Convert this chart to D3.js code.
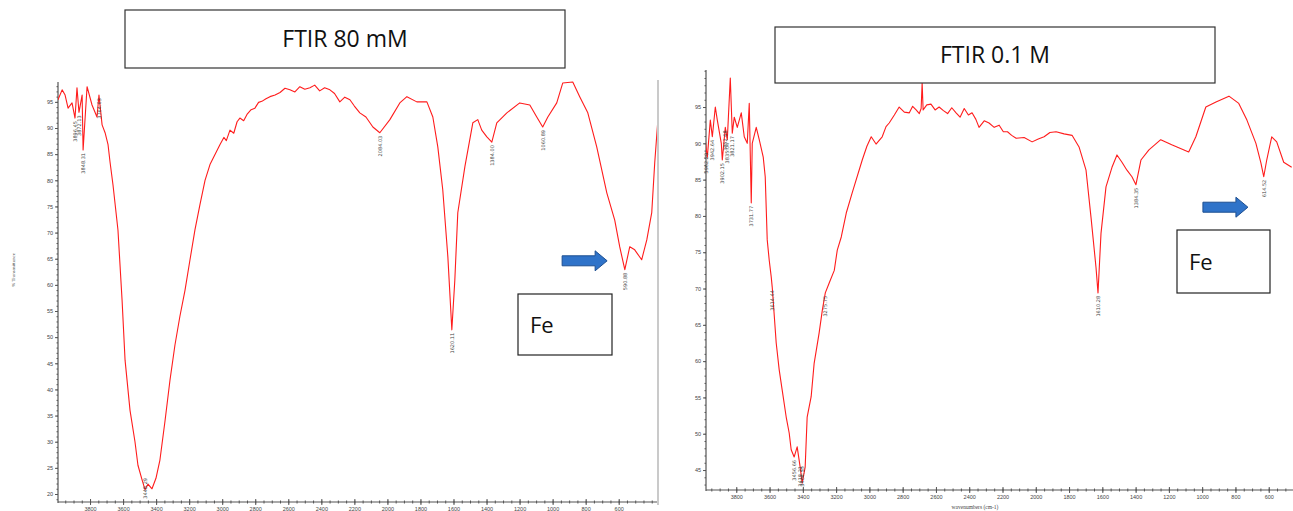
<!DOCTYPE html>
<html>
<head>
<meta charset="utf-8">
<script src="https://cdn.jsdelivr.net/npm/d3@7"></script>
<style>
  body { margin: 0; background: #fff; }
  svg { display: block; }
</style>
</head>
<body>
<div class="canvas"></div>
<script>
// spectrum 1 : FTIR 80 mM
var leftWave = [3994,3969,3951,3933,3909,3891,3879,3867,3848,3842,3818,3788,3758,3746,3727,3709,3691,3679,3661,3631,3606,3588,3558,3528,3510,3485,3467,3449,3425,3401,3377,3346,3316,3286,3256,3225,3195,3165,3135,3104,3074,
    3014,2990,2975,2953,2930,2910,2893,2870,2850,2825,2802,2780,2760,2735,2711,2680,2650,2620,2590,2560,2530,2500,2469,2440,2410,2380,2348,2320,2288,2258,2227,2200,2167,2130,2088,
    2046,1985,1925,1882,1822,1761,1725,1695,1665,1634,1610,1592,1574,1531,1483,1453,1429,1398,1368,1338,1277,1199,1138,1096,1060,1029,975,939,878,836,787,733,672,624,594,563,533,503,461,430,400,382,364];
var leftT = [95.4,97.3,96.3,93.8,94.8,91.9,97.7,93,96.3,85.8,97.9,94.4,92.1,96.3,90.6,89.1,86.8,83.5,79.1,70.5,57,45.6,36,30,25.5,22.7,20.8,21.9,21,23,26.5,34,41.8,48.5,54,59,64.8,70.5,75.3,80,83,
    86.8,88.2,87.6,89.6,89.0,91.2,91.9,91.4,92.6,93.5,93.8,94.9,95.1,95.6,96,96.3,96.8,97.6,97.3,96.9,97.9,97.4,97.7,98.2,97.1,97.7,97.3,96.6,95,95.9,95.4,94.2,92.9,92.1,90.2,
    89.1,91.6,94.8,96,95,95,92.1,86.4,78.2,65.3,51.4,60.9,73.8,82.6,91,91.6,89.6,88.3,87.3,91,92.9,94.8,94.4,92.1,90.2,92.1,94.8,98.6,98.8,96,92.9,86.4,77.6,72.4,67.3,62.9,67.3,66.7,64.8,68.6,73.8,83.3,91];
var leftPeakWave = [3891,3867,3842,3746,3467,2046,1610,1368,1060,563];
var leftPeakText = ['3896.45','3872.13','3848.31','3764.63','3448.29','2084.03','1620.11','1384.00','1060.89','590.88'];

// spectrum 2 : FTIR 0.1 M
var rightWave = [3992,3980,3974,3956,3944,3926,3914,3890,3884,3866,3854,3836,3824,3812,3794,3770,3752,3734,3722,3710,3704,3680,3662,3638,3626,3614,3602,3590,3584,3560,3542,3524,3500,3482,3470,3452,3434,3416,3404,3386,3374,3350,3332,3302,3283,3265,3241,3211,3193,3169,3139,3103,3043,3015,2989,2960,2923,2900,
    2881,2850,2821,2790,2760,2740,2719,2700,2689,2683,2677,2655,2630,2605,2581,2555,2530,2505,2479,2455,2430,2405,2383,2360,2341,2310,2281,2250,2220,2195,2170,2145,2118,2070,2022,1985,1950,1915,1878,1830,1782,1740,
    1698,1668,1638,1626,1608,1578,1542,1512,1482,1452,1422,1398,1368,1320,1249,1183,1081,1038,978,917,839,780,731,677,647,630,612,582,552,510,462];
var rightT = [91.8,89.1,88.1,93.2,90.9,95,93.2,90,87.7,92.2,90.5,99,91.4,93.6,92.2,94.2,90.9,90,95.5,81.8,90,92.2,90.5,88.1,85.4,76.7,73.9,71.6,70.2,62.5,58.8,56,52.3,50.1,47.8,46.8,48.2,45.4,43.2,45.4,52.3,55.1,59.7,63.9,67,69.4,70.8,72.5,75.3,77.1,80.4,83.2,87.7,89.6,90.9,89.9,90.9,92.3,
    92.8,93.9,95,94.3,94.2,95.1,94.6,94.1,94.8,98.3,94.6,95.3,95.4,94.6,95,94.5,94.1,94.9,94.2,93.6,94.8,93.9,94.2,93.3,92.2,93.1,92.8,92.2,92.5,91.6,91.6,91.1,90.7,90.8,90.2,90.6,90.9,91.5,91.6,91.3,91.1,89.5,
    86.3,79.8,72.9,69.4,77.6,84,86.7,88.4,87.4,86.3,85.4,84.3,87.7,89.1,90.5,89.8,88.8,90.9,95,95.7,96.5,95.5,93.2,90,87.3,85.4,87.7,90.9,90.2,87.4,86.7];
var rightPeakWave = [3980,3944,3884,3866,3854,3824,3710,3584,3265,3452,3416,3404,1626,1398,630];
var rightPeakText = ['3962.29','3942.64','3902.15','3852.68','3835.04','3821.17','3731.77','3614.44','3275.75','3456.66','3418.21','3404.35','1610.28','1384.35','614.52'];

// axis ticks
var xTickValues = [3800,3600,3400,3200,3000,2800,2600,2400,2200,2000,1800,1600,1400,1200,1000,800,600];
var leftYTicks = [20,25,30,35,40,45,50,55,60,65,70,75,80,85,90,95];
var rightYTicks = [45,50,55,60,65,70,75,80,85,90,95];

// annotations : [wavenumber, %T] of the arrow tip
var leftArrow = [670, 64.6];
var rightArrow = [725, 81.2];

var width = 1293,
    height = 511,
    red = '#ff1c1c',
    axisColor = '#555';

var svg = d3.select('.canvas').append('svg')
    .attr('width', width)
    .attr('height', height);

// where do the two panels live
var panels = [
    {
        wave: leftWave, t: leftT, peakWave: leftPeakWave, peakText: leftPeakText,
        x: d3.scaleLinear().domain([4000, 350]).range([57, 660]),
        y: d3.scaleLinear().domain([18.47, 98.8]).range([502, 82]),
        yTicks: leftYTicks, axisLeft: 58, axisRight: 657,
        title: 'FTIR 80 mM', titleBox: [125, 10, 440, 58],
        feBox: [518, 294, 94, 61], arrow: leftArrow, border: true
    },
    {
        wave: rightWave, t: rightT, peakWave: rightPeakWave, peakText: rightPeakText,
        x: d3.scaleLinear().domain([4000, 400]).range([703, 1302]),
        y: d3.scaleLinear().domain([42.25, 100.1]).range([490, 70]),
        yTicks: rightYTicks, axisLeft: 706, axisRight: 1293,
        title: 'FTIR 0.1 M', titleBox: [775, 27, 440, 56],
        feBox: [1177, 230, 93, 63], arrow: rightArrow, border: false
    }
];

panels.forEach(function (p, i) {
    var g = svg.append('g');
    var y0 = p.y.range()[0],
        y1 = p.y.range()[1];

    // y axis with minor ticks
    var yAxis = g.append('g')
        .attr('transform', 'translate(' + p.axisLeft + ',0)')
        .call(d3.axisLeft(p.y).tickValues(p.yTicks).tickSize(3).tickPadding(2));
    yAxis.select('.domain').remove();
    yAxis.selectAll('text').attr('font-size', 5.5).attr('fill', '#444');
    yAxis.selectAll('line').attr('stroke', axisColor);
    g.append('g')
        .attr('transform', 'translate(' + p.axisLeft + ',0)')
        .call(d3.axisLeft(p.y).tickValues(d3.range(Math.ceil(p.y.domain()[0]), p.y.domain()[1], 1)).tickSize(1.5).tickFormat(''))
        .call(function (a) { a.select('.domain').remove(); a.selectAll('line').attr('stroke', axisColor); });
    g.append('line')
        .attr('x1', p.axisLeft).attr('x2', p.axisLeft)
        .attr('y1', y1).attr('y2', y0 + 1)
        .attr('stroke', axisColor).attr('stroke-width', 1.2);

    // x axis
    var xAxis = g.append('g')
        .attr('transform', 'translate(0,' + y0 + ')')
        .call(d3.axisBottom(p.x).tickValues(xTickValues).tickSize(3).tickPadding(2).tickFormat(d3.format('d')));
    xAxis.select('.domain').remove();
    xAxis.selectAll('text').attr('font-size', 5.5).attr('fill', '#444');
    xAxis.selectAll('line').attr('stroke', axisColor).attr('y1', -3);
    g.append('g')
        .attr('transform', 'translate(0,' + y0 + ')')
        .call(d3.axisBottom(p.x).tickValues(d3.range(3950, 350, -50)).tickSize(1.5).tickFormat(''))
        .call(function (a) { a.select('.domain').remove(); a.selectAll('line').attr('stroke', axisColor).attr('y1', -1.5); });
    g.append('line')
        .attr('x1', p.axisLeft).attr('x2', p.axisRight)
        .attr('y1', y0).attr('y2', y0)
        .attr('stroke', axisColor).attr('stroke-width', 1.2);

    if (p.border) {
        g.append('line')
            .attr('x1', p.axisRight + 1).attr('x2', p.axisRight + 1)
            .attr('y1', y1 - 2).attr('y2', y0 + 3)
            .attr('stroke', '#b8b8b8').attr('stroke-width', 1.5);
    }

    // the spectrum
    var pts = p.wave.map(function (w, k) { return [w, p.t[k]]; });
    var line = d3.line()
        .x(function (d) { return p.x(d[0]); })
        .y(function (d) { return p.y(d[1]); });
    g.append('clipPath').attr('id', 'clip' + i)
        .append('rect')
        .attr('x', p.axisLeft).attr('y', y1 - 4)
        .attr('width', p.axisRight - p.axisLeft).attr('height', y0 - y1 + 4);
    g.append('path')
        .datum(pts)
        .attr('clip-path', 'url(#clip' + i + ')')
        .attr('d', line)
        .attr('fill', 'none')
        .attr('stroke', red)
        .attr('stroke-width', 1.1)
        .attr('stroke-linejoin', 'round');

    // peak labels, kept above the x axis
    g.selectAll('.peak')
        .data(p.peakWave)
        .enter()
        .append('text')
        .attr('class', 'peak')
        .attr('transform', function (w, k) {
            var idx = p.wave.indexOf(w);
            var py = Math.min(p.y(p.t[idx]) + 3, y0 - 24);
            return 'translate(' + (p.x(w) + 2) + ',' + py + ') rotate(-90)';
        })
        .attr('text-anchor', 'end')
        .attr('font-family', 'DejaVu Sans, sans-serif')
        .attr('font-size', 5)
        .attr('fill', '#444')
        .text(function (w, k) { return p.peakText[k]; });

    // title box
    g.append('rect')
        .attr('x', p.titleBox[0]).attr('y', p.titleBox[1])
        .attr('width', p.titleBox[2]).attr('height', p.titleBox[3])
        .attr('fill', '#fff').attr('stroke', '#333').attr('stroke-width', 1.2);
    g.append('text')
        .attr('x', p.titleBox[0] + p.titleBox[2] / 2)
        .attr('y', p.titleBox[1] + p.titleBox[3] / 2 + 8)
        .attr('text-anchor', 'middle')
        .attr('font-family', 'Open Sans, sans-serif')
        .attr('font-size', 23)
        .attr('fill', '#111')
        .text(p.title);

    // Fe box
    g.append('rect')
        .attr('x', p.feBox[0]).attr('y', p.feBox[1])
        .attr('width', p.feBox[2]).attr('height', p.feBox[3])
        .attr('fill', '#fff').attr('stroke', '#222').attr('stroke-width', 1.2);
    g.append('text')
        .attr('x', p.feBox[0] + 12)
        .attr('y', p.feBox[1] + p.feBox[3] / 2 + 8)
        .attr('font-family', 'Open Sans, sans-serif')
        .attr('font-size', 22)
        .attr('fill', '#111')
        .text('Fe');

    // blue arrow pointing at the Fe band
    var tx = p.x(p.arrow[0]),
        ty = p.y(p.arrow[1]);
    var arrowPath = d3.path();
    arrowPath.moveTo(tx, ty);
    arrowPath.lineTo(tx - 12, ty - 10);
    arrowPath.lineTo(tx - 12, ty - 5);
    arrowPath.lineTo(tx - 45, ty - 5);
    arrowPath.lineTo(tx - 45, ty + 5);
    arrowPath.lineTo(tx - 12, ty + 5);
    arrowPath.lineTo(tx - 12, ty + 10);
    arrowPath.closePath();
    g.append('path')
        .attr('d', arrowPath.toString())
        .attr('fill', '#2f73c9')
        .attr('stroke', '#1d4f91')
        .attr('stroke-width', 1);
});

// axis titles
svg.append('text')
    .attr('transform', 'translate(15,270) rotate(-90)')
    .attr('text-anchor', 'middle')
    .attr('font-size', 5)
    .attr('fill', '#444')
    .text('% Transmittance');
svg.append('text')
    .attr('x', 975).attr('y', 509)
    .attr('text-anchor', 'middle')
    .attr('font-size', 5.5)
    .attr('fill', '#444')
    .text('wavenumbers (cm-1)');
</script>
</body>
</html>
